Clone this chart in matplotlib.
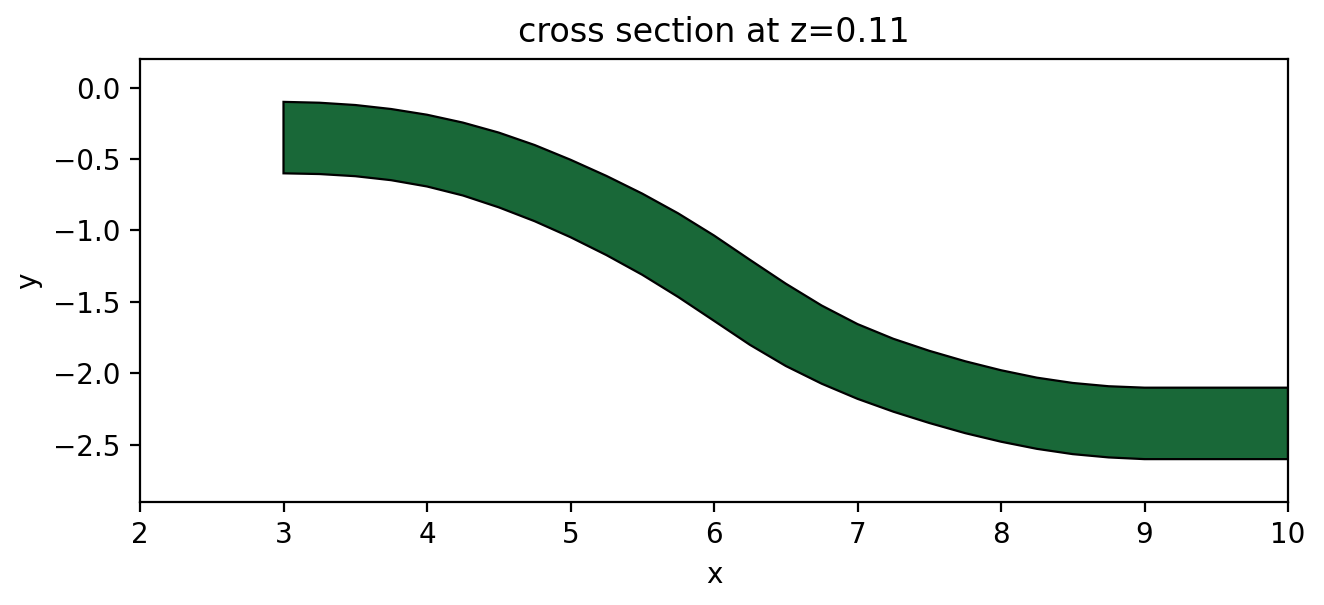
import matplotlib
matplotlib.use("Agg")
import matplotlib.pyplot as plt
from matplotlib.patches import Polygon

# Edge readings of the waveguide cross section
x_vals = [3.0, 3.25, 3.5, 3.75, 4.0, 4.25, 4.5, 4.75, 5.0, 5.25, 5.5, 5.75,
          6.0, 6.25, 6.5, 6.75, 7.0, 7.25, 7.5, 7.75, 8.0, 8.25, 8.5, 8.75,
          9.0, 10.0]
top_y = [-0.100, -0.106, -0.122, -0.150, -0.190, -0.245, -0.315, -0.402,
         -0.505, -0.618, -0.742, -0.880, -1.035, -1.205, -1.372, -1.525,
         -1.655, -1.758, -1.842, -1.915, -1.978, -2.030, -2.067, -2.090,
         -2.100, -2.100]
bottom_y = [-0.600, -0.605, -0.620, -0.648, -0.692, -0.755, -0.838, -0.935,
            -1.047, -1.172, -1.310, -1.465, -1.632, -1.800, -1.948, -2.072,
            -2.178, -2.268, -2.347, -2.418, -2.478, -2.528, -2.565, -2.588,
            -2.600, -2.600]

xticks = [2, 3, 4, 5, 6, 7, 8, 9, 10]
yticks = [0.0, -0.5, -1.0, -1.5, -2.0, -2.5]

fig = plt.figure(figsize=(6.62, 3.025), dpi=200)
ax = fig.add_axes([140/1324, 1-502/605, 1148/1324, 443/605])

pts = list(zip(x_vals, top_y)) + list(zip(x_vals[::-1], bottom_y[::-1]))
poly = Polygon(pts, closed=True, facecolor="#196838", edgecolor="black", linewidth=0.8)
ax.add_patch(poly)

ax.set_xlim(2, 10)
ax.set_ylim(-2.9, 0.2)
ax.set_xticks(xticks)
ax.set_yticks(yticks)
ax.set_xlabel("x")
ax.set_ylabel("y")
ax.set_title("cross section at z=0.11")

fig.savefig("out.png", dpi=200)
